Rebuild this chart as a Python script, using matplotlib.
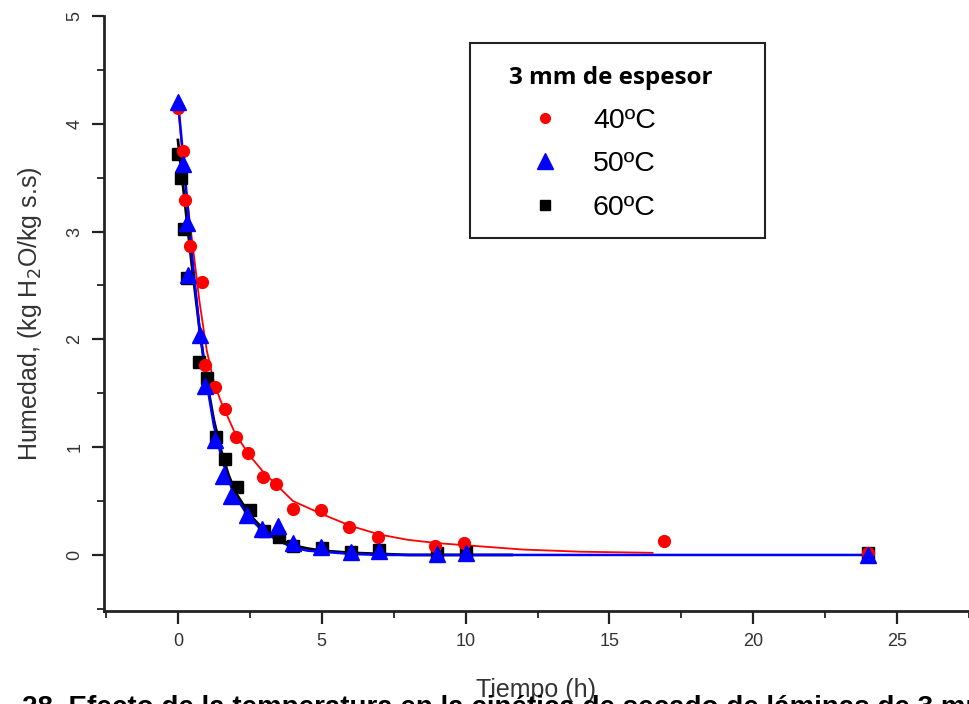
import numpy as np
import matplotlib
matplotlib.use("Agg")
import matplotlib.pyplot as plt
from matplotlib.lines import Line2D
from matplotlib.patches import Rectangle
from matplotlib.ticker import MultipleLocator

# measured points (tiempo h, humedad kg H2O/kg s.s)
t_40 = [0, 0.17, 0.25, 0.42, 0.83, 0.94, 1.29, 1.63, 2.02, 2.43, 2.96, 3.41, 4.0, 4.97, 5.95, 6.96, 8.94, 9.95, 16.9, 24]
h_40 = [4.15, 3.75, 3.29, 2.87, 2.53, 1.76, 1.56, 1.35, 1.09, 0.95, 0.72, 0.66, 0.43, 0.42, 0.26, 0.17, 0.08, 0.11, 0.13, 0.02]

t_50 = [0, 0.17, 0.3, 0.35, 0.77, 0.94, 1.29, 1.57, 1.86, 2.39, 2.91, 3.49, 4.0, 4.97, 6, 7, 9, 10, 24]
h_50 = [4.2, 3.63, 3.08, 2.6, 2.04, 1.57, 1.07, 0.73, 0.55, 0.37, 0.24, 0.27, 0.11, 0.07, 0.03, 0.04, 0.01, 0.02, 0.0]

t_60 = [0, 0.1, 0.2, 0.3, 0.73, 1.0, 1.34, 1.63, 2.04, 2.5, 3.0, 3.5, 4, 5, 6, 7, 9, 10, 24]
h_60 = [3.72, 3.5, 3.02, 2.57, 1.79, 1.64, 1.09, 0.89, 0.63, 0.42, 0.22, 0.17, 0.08, 0.06, 0.03, 0.05, 0.02, 0.03, 0.02]

# fitted curves
fit_t_40 = [0, 0.25, 0.5, 0.75, 1, 1.25, 1.5, 2, 2.5, 3, 3.5, 4, 5, 6, 7, 8, 9, 10, 11, 12, 14, 16.5]
fit_h_40 = [4.17, 3.45, 2.9, 2.35, 1.9, 1.6, 1.42, 1.12, 0.92, 0.76, 0.63, 0.5, 0.38, 0.27, 0.19, 0.14, 0.11, 0.09, 0.07, 0.05, 0.03, 0.02]

fit_t_50 = [0, 0.25, 0.5, 0.75, 1, 1.25, 1.5, 1.75, 2, 2.5, 3, 3.5, 4, 4.5, 5, 6, 7, 24]
fit_h_50 = [4.22, 3.5, 2.75, 2.1, 1.6, 1.2, 0.92, 0.7, 0.54, 0.34, 0.21, 0.13, 0.07, 0.04, 0.03, 0.01, 0.0, 0.0]

fit_t_60 = [0, 0.25, 0.5, 0.75, 1, 1.25, 1.5, 1.75, 2, 2.5, 3, 3.5, 4, 4.5, 5, 6, 7, 8, 11.6]
fit_h_60 = [3.85, 3.25, 2.65, 2.1, 1.62, 1.25, 0.97, 0.75, 0.58, 0.37, 0.23, 0.15, 0.09, 0.06, 0.04, 0.02, 0.01, 0.0, 0.0]

labels = ["40ºC", "50ºC", "60ºC"]
x_ticks = [0, 5, 10, 15, 20, 25]
y_ticks = [0, 1, 2, 3, 4, 5]

sans = ["Liberation Sans", "DejaVu Sans"]
W, H = 969, 704

fig = plt.figure(figsize=(W / 100, H / 100), dpi=100)
ax = fig.add_axes([104 / W, 1 - 611 / H, 1 - 104 / W, (611 - 16) / H])

ax.plot(fit_t_40, fit_h_40, color="red", lw=1.3, zorder=2)
ax.plot(fit_t_60, fit_h_60, color="black", lw=2.0, zorder=2)
ax.plot(fit_t_50, fit_h_50, color="blue", lw=1.8, zorder=2)

ax.plot(t_60, h_60, ls="none", marker="s", ms=8, color="black", zorder=3)
ax.plot(t_40, h_40, ls="none", marker="o", ms=8.5, color="red", zorder=4)
ax.plot(t_50, h_50, ls="none", marker="^", ms=11, color="blue", zorder=5)

ax.set_xlim(-2.57, 27.5)
ax.set_ylim(-0.52, 5)
ax.set_xticks(x_ticks)
ax.set_yticks(y_ticks)
ax.xaxis.set_minor_locator(MultipleLocator(2.5))
ax.yaxis.set_minor_locator(MultipleLocator(0.5))

for s in ["top", "right"]:
    ax.spines[s].set_visible(False)
for s in ["left", "bottom"]:
    ax.spines[s].set_linewidth(2.0)
    ax.spines[s].set_color("#222222")

ax.tick_params(which="major", direction="out", length=9, width=1.6, color="#222222")
ax.tick_params(which="minor", direction="out", length=5, width=1.3, color="#222222")
ax.tick_params(axis="x", pad=7)
ax.tick_params(axis="y", pad=6)
for lab in ax.get_xticklabels():
    lab.set_family(sans)
    lab.set_fontsize(13)
    lab.set_color("#333333")
for lab in ax.get_yticklabels():
    lab.set_family(sans)
    lab.set_fontsize(13)
    lab.set_color("#333333")
    lab.set_rotation(90)
    lab.set_va("center")

ax.set_xlabel("Tiempo (h)", family=sans, fontsize=18, color="#333333", labelpad=20)
ax.set_ylabel("Humedad, (kg H$_2$O/kg s.s)", family=sans, fontsize=18, color="#333333", labelpad=16)
ax.xaxis.label.set_zorder(10)

# legend box drawn as a plain frame, legend content placed inside it
ax.add_patch(Rectangle((470 / W, 1 - 238 / H), 295 / W, 195 / H,
                       transform=fig.transFigure, facecolor="white",
                       edgecolor="#222222", lw=1.5, zorder=6, clip_on=False))

handles = [
    Line2D([], [], ls="none", marker="o", ms=7, color="red"),
    Line2D([], [], ls="none", marker="^", ms=11, color="blue"),
    Line2D([], [], ls="none", marker="s", ms=7, color="black"),
]
leg = ax.legend(handles, labels, title="3 mm de espesor",
                loc="upper left", bbox_to_anchor=(509 / W, 1 - 66 / H),
                bbox_transform=fig.transFigure, frameon=False, alignment="left",
                prop={"family": sans, "size": 20.5},
                title_fontproperties={"family": ["Open Sans", "DejaVu Sans"], "weight": "bold", "size": 17.5},
                borderpad=0, labelspacing=0.62, handlelength=2.5, handletextpad=0.45,
                borderaxespad=0)
leg.set_zorder(7)

fig.text(22 / W, 1 - 695 / H, "28. Efecto de la temperatura en la cinética de secado de láminas de 3 mm",
         va="top", ha="left", fontsize=20, family=sans, weight="bold")

fig.savefig("out.png", dpi=100)
